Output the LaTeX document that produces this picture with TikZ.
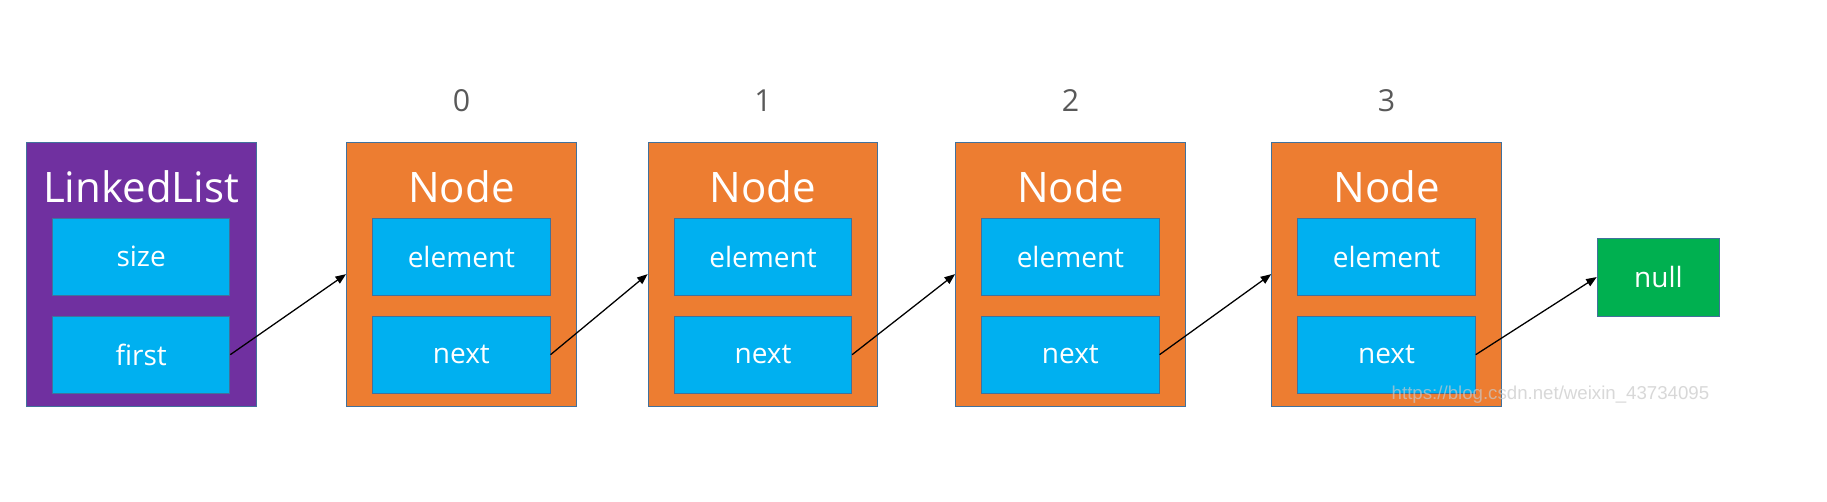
\documentclass[tikz,border=0pt]{standalone}
\usepackage{fontspec}
\setmainfont{Open Sans}
\newfontfamily\wmfont{Liberation Sans}
\usetikzlibrary{arrows.meta}
\definecolor{llpurple}{HTML}{7030A0}
\definecolor{ndorange}{HTML}{ED7D31}
\definecolor{fldblue}{HTML}{00B0F0}
\definecolor{nullgreen}{HTML}{00B050}
\definecolor{edgeblue}{HTML}{41719C}
\definecolor{idxgray}{HTML}{595959}
\definecolor{wmgray}{HTML}{C8C8C8}
\tikzset{
  outerbox/.style={draw=edgeblue, line width=0.8pt, minimum width=197pt, minimum height=226pt, inner sep=0pt},
  titletext/.style={text=white, font=\fontsize{36}{36}\selectfont, inner sep=0pt},
  fieldbox/.style={fill=fldblue, draw=edgeblue, line width=0.8pt, minimum width=152pt, minimum height=66pt, inner sep=0pt, text=white, font=\fontsize{24}{24}\selectfont},
  idxtext/.style={text=idxgray, font=\fontsize{26}{26}\selectfont, inner sep=0pt},
  nullbox/.style={fill=nullgreen, draw=edgeblue, line width=0.8pt, minimum width=105pt, minimum height=67pt, inner sep=0pt, text=white, font=\fontsize{24}{24}\selectfont},
  ptr/.style={draw=black, line width=1.1pt, -{Triangle[length=9pt,width=7pt]}},
  watermark/.style={text=wmgray, opacity=0.7, font=\wmfont\fontsize{16}{16}\selectfont, inner sep=0pt}
}
\begin{document}
\begin{tikzpicture}[x=1pt,y=-1pt]
\fill[white] (0,0) rectangle (1566,430);
\useasboundingbox (0,0) rectangle (1566,430);
% LinkedList
\node[outerbox, fill=llpurple] (ll) at (121,235) {};
\node[titletext] (llt) at (121,160) {LinkedList};
\node[fieldbox] (llsize) at (121,220) {size};
\node[fieldbox] (llfirst) at (121,304) {first};
% Node 0
\node[outerbox, fill=ndorange] (n0) at (395.5,235) {};
\node[titletext] (n0t) at (395.5,160) {Node};
\node[fieldbox] (n0e) at (395.5,220) {element};
\node[fieldbox] (n0n) at (395.5,304) {next};
\node[idxtext] (i0) at (395.5,86) {0};
% Node 1
\node[outerbox, fill=ndorange] (n1) at (654,235) {};
\node[titletext] (n1t) at (654,160) {Node};
\node[fieldbox] (n1e) at (654,220) {element};
\node[fieldbox] (n1n) at (654,304) {next};
\node[idxtext] (i1) at (654,86) {1};
% Node 2
\node[outerbox, fill=ndorange] (n2) at (917.5,235) {};
\node[titletext] (n2t) at (917.5,160) {Node};
\node[fieldbox] (n2e) at (917.5,220) {element};
\node[fieldbox] (n2n) at (917.5,304) {next};
\node[idxtext] (i2) at (917.5,86) {2};
% Node 3
\node[outerbox, fill=ndorange] (n3) at (1188.5,235) {};
\node[titletext] (n3t) at (1188.5,160) {Node};
\node[fieldbox] (n3e) at (1188.5,220) {element};
\node[fieldbox] (n3n) at (1188.5,304) {next};
\node[idxtext] (i3) at (1188.5,86) {3};
% null
\node[nullbox] (null) at (1421.5,237.5) {null};
% pointers
\draw[ptr] (llfirst.east) -- (n0.west);
\draw[ptr] (n0n.east) -- (n1.west);
\draw[ptr] (n1n.east) -- (n2.west);
\draw[ptr] (n2n.east) -- (n3.west);
\draw[ptr] (n3n.east) -- (null.west);
% watermark
\node[watermark] (wm) at (1329,338) {https://blog.csdn.net/weixin\_43734095};
\end{tikzpicture}
\end{document}
